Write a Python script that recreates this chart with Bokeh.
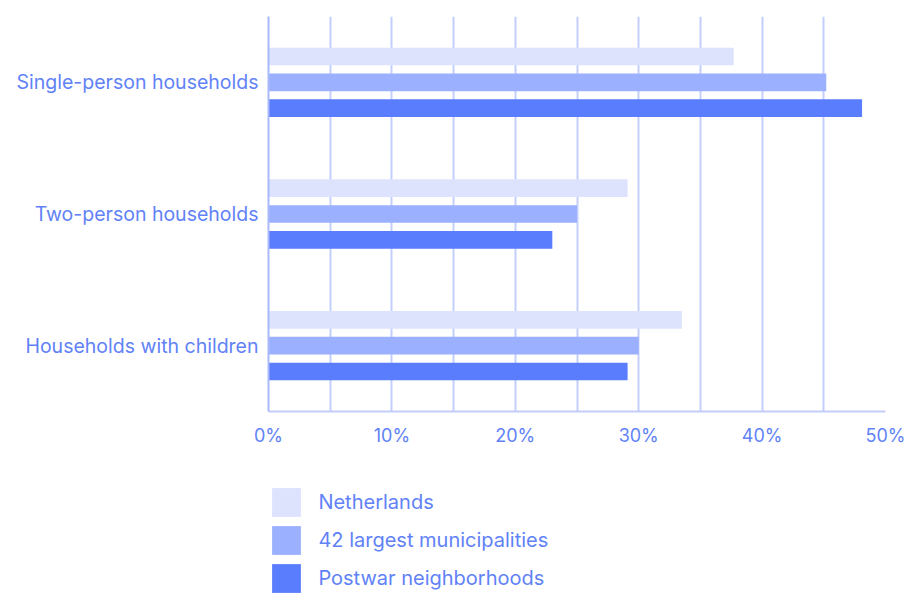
from bokeh.plotting import figure
from bokeh.models import (ColumnDataSource, FactorRange, Range1d, FixedTicker,
                          NumeralTickFormatter, Legend, LegendItem)
from bokeh.layouts import column
from bokeh.transform import dodge
from bokeh.embed import file_html
from bokeh.resources import INLINE

categories = ["Single-person households", "Two-person households", "Households with children"]
netherlands = [0.377, 0.291, 0.335]
largest_42 = [0.452, 0.250, 0.300]
postwar = [0.481, 0.230, 0.291]
series_names = ["Netherlands", "42 largest municipalities", "Postwar neighborhoods"]
x_ticks = [0.0, 0.1, 0.2, 0.3, 0.4, 0.5]
grid_ticks = [0.0, 0.05, 0.1, 0.15, 0.2, 0.25, 0.3, 0.35, 0.4, 0.45, 0.5]

colors = ["#dde3fd", "#9bb0fe", "#5a7dfe"]
text_color = "#6182f7"
grid_color = "#c3cefc"
FONT = "Inter"

source = ColumnDataSource(dict(cat=categories, nl=netherlands, l42=largest_42, pw=postwar))
fields = ["nl", "l42", "pw"]

p = figure(width=910, height=460, output_backend="svg", toolbar_location=None,
           y_range=FactorRange(factors=list(reversed(categories)), range_padding=0),
           x_range=Range1d(0, 0.5),
           min_border_left=268, min_border_right=25, min_border_top=16, min_border_bottom=49)

offsets = [0.196, 0.0, -0.196]
for field, off, col in zip(fields, offsets, colors):
    p.hbar(y=dodge("cat", off, range=p.y_range), right=field, left=0, height=0.134,
           source=source, fill_color=col, line_color=None)

p.outline_line_color = None
p.background_fill_color = "white"
p.border_fill_color = "white"

p.ygrid.grid_line_color = None
p.xgrid.ticker = FixedTicker(ticks=grid_ticks)
p.xgrid.grid_line_color = grid_color
p.xgrid.grid_line_width = 2

p.xaxis.ticker = FixedTicker(ticks=x_ticks)
p.xaxis.formatter = NumeralTickFormatter(format="0%")
p.xaxis.axis_line_color = grid_color
p.xaxis.axis_line_width = 2
p.xaxis.major_tick_line_color = None
p.xaxis.minor_tick_line_color = None
p.xaxis.major_tick_out = 0
p.xaxis.minor_tick_out = 0
p.xaxis.major_label_text_color = text_color
p.xaxis.major_label_text_font = FONT
p.xaxis.major_label_text_font_size = "18px"
p.xaxis.major_label_standoff = 13

p.yaxis.axis_line_color = "#a9b9fb"
p.yaxis.axis_line_width = 2
p.yaxis.major_tick_line_color = None
p.yaxis.minor_tick_line_color = None
p.yaxis.major_tick_out = 0
p.yaxis.minor_tick_out = 0
p.yaxis.major_label_text_color = text_color
p.yaxis.major_label_text_font = FONT
p.yaxis.major_label_text_font_size = "19.5px"
p.yaxis.major_label_standoff = 10

# Legend panel below the chart (its bars have no height and lie outside the x range,
# so only the legend swatches show)
lp = figure(width=910, height=136, output_backend="svg", toolbar_location=None,
            x_axis_location=None, y_axis_location=None,
            x_range=Range1d(1, 2), y_range=FactorRange(factors=categories),
            min_border_left=268, min_border_right=25, min_border_top=0, min_border_bottom=0)
lp.grid.grid_line_color = None
lp.outline_line_color = None
lp.border_fill_color = "white"
lp.background_fill_color = "white"
items = []
for name, field, col in zip(series_names, fields, colors):
    r = lp.hbar(y="cat", right=field, left=0, height=0.0, source=source,
                fill_color=col, line_color=None)
    items.append(LegendItem(label=name, renderers=[r], index=0))

legend = Legend(items=items, location=(0.4, 0), orientation="vertical",
                glyph_width=36, glyph_height=36, spacing=2, padding=0, margin=0,
                label_standoff=14, border_line_color=None, background_fill_alpha=0,
                label_text_color=text_color, label_text_font=FONT, label_text_font_size="20px")
lp.add_layout(legend, "center")

layout = column(p, lp, spacing=0)
open("out.html", "w").write(file_html(layout, INLINE))
